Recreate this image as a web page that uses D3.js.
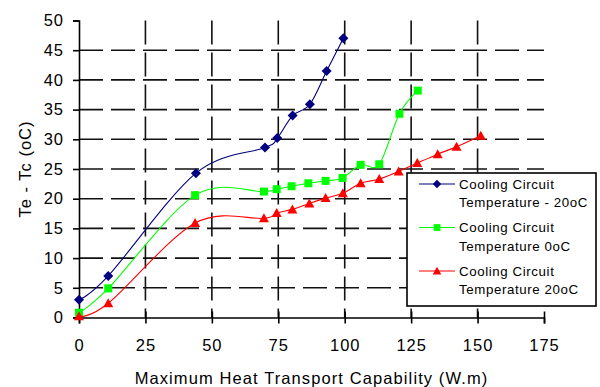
<!DOCTYPE html>
<html>
<head>
<meta charset="utf-8">
<script src="https://cdn.jsdelivr.net/npm/d3@7"></script>
<style>
  body { margin: 0; background: #fff; }
  text { font-family: "Liberation Sans", Arial, sans-serif; fill: #000; }
</style>
</head>
<body>
<div id="chart"></div>
<script>
var xTicks = [0, 25, 50, 75, 100, 125, 150, 175];
var yTicks = [0, 5, 10, 15, 20, 25, 30, 35, 40, 45, 50];

var blueX = [0, 11, 44, 70, 74.6, 80.4, 86.9, 93.2, 99.5];
var blueY = [3, 7, 24.3, 28.6, 30.2, 34, 35.9, 41.5, 47];

var greenX = [0, 11, 43.7, 69.6, 74.4, 80, 86.3, 92.8, 99.2, 106, 113, 120.6, 127.5];
var greenY = [0.8, 4.9, 20.6, 21.2, 21.6, 22.1, 22.6, 23, 23.5, 25.7, 25.8, 34.3, 38.2];

var redX = [0, 11, 43.7, 69.6, 74.4, 80.3, 86.7, 92.8, 99.3, 106, 113, 120.3, 127.3, 135, 142.1, 151.2];
var redY = [0.2, 2.4, 15.9, 16.7, 17.6, 18.2, 19.2, 20.1, 20.9, 22.6, 23.3, 24.6, 26, 27.5, 28.75, 30.6];

var seriesNames = [["Cooling Circuit", "Temperature - 20oC"],
                   ["Cooling Circuit", "Temperature 0oC"],
                   ["Cooling Circuit", "Temperature 20oC"]];

var width = 600, height = 387;
var svg = d3.select("#chart").append("svg")
    .attr("width", width)
    .attr("height", height);

var x = d3.scaleLinear().domain([0, 175]).range([79, 544]);
var y = d3.scaleLinear().domain([0, 50]).range([317.5, 20.5]);

// grid
var grid = svg.append("g");
grid.selectAll(".hgrid")
    .data(yTicks.filter(function(d){ return d > 0 && d < 50; })).enter().append("line")
    .attr("x1", x(0)).attr("x2", x(175))
    .attr("y1", function(d){ return y(d); })
    .attr("y2", function(d){ return y(d); })
    .attr("stroke", "#111").attr("stroke-width", 1.6)
    .attr("stroke-dasharray", "24,8");
grid.selectAll(".vgrid")
    .data(xTicks.filter(function(d){ return d > 0 && d < 175; })).enter().append("line")
    .attr("x1", function(d){ return x(d); })
    .attr("x2", function(d){ return x(d); })
    .attr("y1", y(50)).attr("y2", y(0))
    .attr("stroke", "#111").attr("stroke-width", 1.6)
    .attr("stroke-dasharray", "24,8");

// axes
var yAxis = d3.axisLeft(y).tickValues(yTicks).tickSize(6).tickPadding(9);
var xAxis = d3.axisBottom(x).tickValues(xTicks).tickSize(6).tickPadding(16);

var gy = svg.append("g").attr("transform", "translate(" + x(0) + ",0)").call(yAxis);
var gx = svg.append("g").attr("transform", "translate(0," + y(0) + ")").call(xAxis);
[gx, gy].forEach(function(g){
    g.select(".domain").attr("stroke", "#000").attr("stroke-width", 1.6);
    g.selectAll(".tick line").attr("stroke", "#000").attr("stroke-width", 1.6);
    g.selectAll(".tick text")
        .style("font-family", '"Liberation Sans", Arial, sans-serif')
        .style("font-size", "16.5px")
        .style("letter-spacing", "1px")
        .attr("fill", "#000");
});
gx.selectAll(".tick line").attr("y1", -6);

// series
var line = d3.line()
    .x(function(d){ return x(d[0]); })
    .y(function(d){ return y(d[1]); })
    .curve(d3.curveCardinal.tension(0));

var markers = {
    diamond: "M0,-5L5,0L0,5L-5,0Z",
    square: "M-4,-4L4,-4L4,4L-4,4Z",
    triangle: "M0,-5L5,4L-5,4Z"
};

var series = [
    {xs: blueX, ys: blueY, color: "#000080", marker: "diamond"},
    {xs: greenX, ys: greenY, color: "#00ff00", marker: "square"},
    {xs: redX, ys: redY, color: "#ff0000", marker: "triangle"}
];

series.forEach(function(s){
    var pts = s.xs.map(function(v, i){ return [v, s.ys[i]]; });
    svg.append("path")
        .datum(pts)
        .attr("d", line)
        .attr("fill", "none")
        .attr("stroke", s.color)
        .attr("stroke-width", 1.1);
    svg.selectAll(null)
        .data(pts).enter().append("path")
        .attr("d", markers[s.marker])
        .attr("transform", function(d){ return "translate(" + x(d[0]) + "," + y(d[1]) + ")"; })
        .attr("fill", s.color);
});

// legend
var lg = svg.append("g").attr("transform", "translate(407,173)");
lg.append("rect")
    .attr("width", 189).attr("height", 133)
    .attr("fill", "#fff")
    .attr("stroke", "#000").attr("stroke-width", 1.6);

seriesNames.forEach(function(names, i){
    var cy = 11 + i * 43.5;
    var s = series[i];
    lg.append("line")
        .attr("x1", 12).attr("x2", 48)
        .attr("y1", cy).attr("y2", cy)
        .attr("stroke", s.color).attr("stroke-width", 1.1);
    lg.append("path")
        .attr("d", markers[s.marker])
        .attr("transform", "translate(30," + cy + ") scale(0.85)")
        .attr("fill", s.color);
    names.forEach(function(t, j){
        lg.append("text")
            .attr("x", 52)
            .attr("y", cy + j * 18.5)
            .attr("dy", "0.35em")
            .style("font-size", "13.3px")
            .style("letter-spacing", "0.6px")
            .text(t);
    });
});

// axis titles
svg.append("text")
    .attr("transform", "translate(25," + ((y(0) + y(50)) / 2) + ") rotate(-90)")
    .attr("text-anchor", "middle")
    .attr("dy", "0.35em")
    .style("font-size", "16.5px")
    .style("letter-spacing", "1px")
    .text("Te - Tc (oC)");

svg.append("text")
    .attr("x", (x(0) + x(175)) / 2)
    .attr("y", 378)
    .attr("text-anchor", "middle")
    .attr("dy", "0.35em")
    .style("font-size", "16.5px")
    .style("letter-spacing", "1.1px")
    .text("Maximum Heat Transport Capability (W.m)");
</script>
</body>
</html>
